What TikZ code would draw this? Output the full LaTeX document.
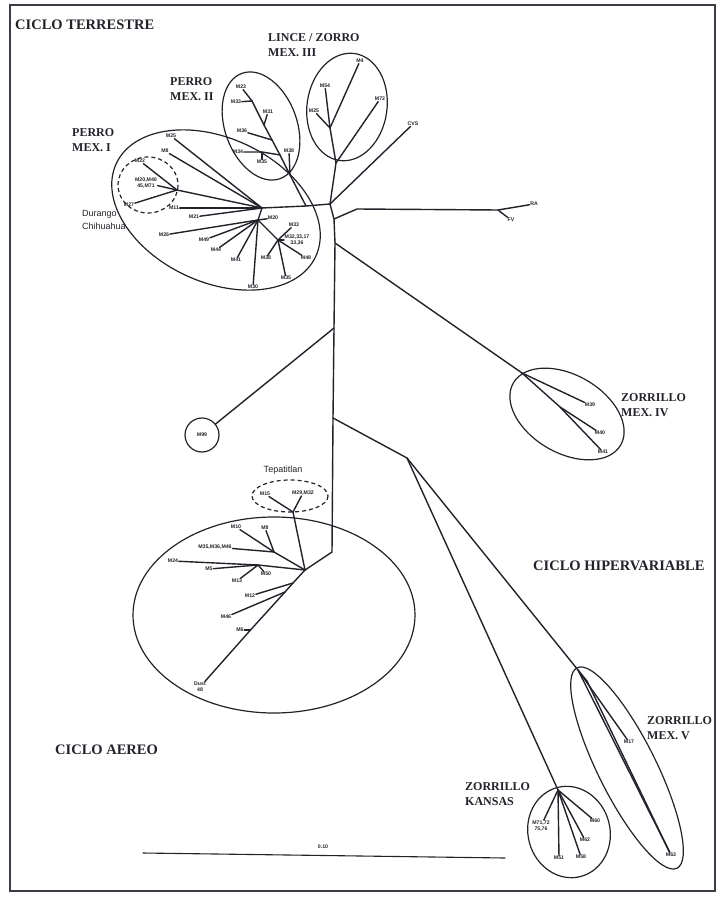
\documentclass[tikz,border=0pt]{standalone}
\usepackage{fontspec}
\setmainfont{Liberation Serif}
\newfontfamily\leaffam{Liberation Sans}
\usetikzlibrary{calc}
\definecolor{inkcol}{RGB}{34,34,42}
\definecolor{framecol}{RGB}{60,60,68}
\newcommand{\leaffont}{\leaffam\bfseries\fontsize{5.2}{5.8}\selectfont}
\newcommand{\groupfont}{\bfseries\fontsize{12}{14.5}\selectfont}
\newcommand{\cyclefont}{\bfseries\fontsize{14.5}{16}\selectfont}
\newcommand{\placefont}{\leaffam\fontsize{9}{13}\selectfont}
\tikzset{
  branch/.style={inkcol, line width=1.4pt, line cap=round},
  clade/.style={inkcol, line width=1.2pt},
  localclade/.style={inkcol, line width=1.2pt, dash pattern=on 4pt off 3pt},
  leaf/.style={inkcol, font=\leaffont, inner sep=0.6pt, align=center},
  grouplbl/.style={inkcol, font=\groupfont, align=left, anchor=west, inner sep=0pt},
  cyclelbl/.style={inkcol, font=\cyclefont, anchor=west, inner sep=0pt},
  placelbl/.style={inkcol, font=\placefont, align=left, inner sep=0pt}
}

\begin{document}
\begin{tikzpicture}[x=1pt, y=-1pt]

  \useasboundingbox (0,0) rectangle (724,901);

  % --- frame -------------------------------------------------------------
  \draw[framecol, line width=2pt] (10,5) rectangle (715,891);

  % --- cycle titles --------------------------------------------------------
  \node[cyclelbl] (tTerr) at (15,25) {CICLO TERRESTRE};
  \node[cyclelbl] (tHiper) at (533,566) {CICLO HIPERVARIABLE};
  \node[cyclelbl] (tAereo) at (55,750) {CICLO AEREO};

  % --- inner nodes of the tree --------------------------------------------
  \coordinate (H)     at (330,204);
  \coordinate (T1)    at (334,219);
  \coordinate (Tz4)   at (335,243);
  \coordinate (T99)   at (334,328);
  \coordinate (HVj)   at (333,418);
  \coordinate (B1)    at (332,552);
  \coordinate (A1)    at (305,570);
  \coordinate (RAj)   at (357,209);
  \coordinate (RAn)   at (498,210);
  \coordinate (L1)    at (336,163);
  \coordinate (L2)    at (330,128);
  \coordinate (J2)    at (306,206);
  \coordinate (P2a)   at (290,175);
  \coordinate (S1)    at (280,155);
  \coordinate (S2)    at (272,140);
  \coordinate (S3)    at (264,125);
  \coordinate (P2top) at (252,101);
  \coordinate (F1)    at (262,152);
  \coordinate (P1)    at (262,208);
  \coordinate (PIa)   at (258,220);
  \coordinate (PIb)   at (278,240);
  \coordinate (D)     at (177,190);
  \coordinate (TepS)  at (293,512);
  \coordinate (A2)    at (274,552);
  \coordinate (A3)    at (258,565);
  \coordinate (A4)    at (293,583);
  \coordinate (A5)    at (285,592);
  \coordinate (A6)    at (250.5,630);
  \coordinate (HV)    at (407,458);
  \coordinate (Z4)    at (522,373);
  \coordinate (Z4a)   at (560,407);
  \coordinate (Z5)    at (578,670);
  \coordinate (Z5b)   at (587,681);
  \coordinate (ZK)    at (558,790);

  % --- leaf labels ---------------------------------------------------------
  \node[leaf] (lRA)   at (534,204) {RA};
  \node[leaf] (lFV)   at (511,220) {FV};
  \node[leaf] (lCVS)  at (413,124) {CVS};
  % lince / zorro
  \node[leaf] (lM54)  at (325,86)  {M54};
  \node[leaf] (lM25z) at (314,111) {M25};
  \node[leaf] (lM4)   at (360,61)  {M4};
  \node[leaf] (lM72)  at (380,99)  {M72};
  % perro mex. ii
  \node[leaf] (lM23)  at (241,87)  {M23};
  \node[leaf] (lM33)  at (236,102) {M33};
  \node[leaf] (lM31)  at (268,112) {M31};
  \node[leaf] (lM36)  at (242,131) {M36};
  \node[leaf] (lM34)  at (238,152) {M34};
  \node[leaf] (lM35)  at (262,162) {M35};
  \node[leaf] (lM38)  at (289,151) {M38};
  % perro mex. i
  \node[leaf] (lM25)  at (171,136) {M25};
  \node[leaf] (lM8)   at (165,151) {M8};
  \node[leaf] (lM11)  at (174,208) {M11};
  \node[leaf] (lM21)  at (194,217) {M21};
  \node[leaf] (lM26)  at (164,235) {M26};
  \node[leaf] (lM30)  at (253,287) {M30};
  \node[leaf] (lM49)  at (204,240) {M49};
  \node[leaf] (lM44)  at (216,250) {M44};
  \node[leaf] (lM41)  at (236,260) {M41};
  \node[leaf] (lM20)  at (273,218) {M20};
  \node[leaf] (lM33b) at (294,225) {M33};
  \node[leaf] (lM32)  at (297,240) {M32,33,17\\33,36};
  \node[leaf] (lM48)  at (306,258) {M48};
  \node[leaf] (lM38b) at (266,258) {M38};
  \node[leaf] (lM35b) at (286,278) {M35};
  % durango / chihuahua
  \node[leaf] (lM22)  at (140,161) {M22};
  \node[leaf] (lM20c) at (146,183) {M20,M40\\45,M71};
  \node[leaf] (lM27)  at (129,205) {M27};
  % tepatitlan and aereo
  \node[leaf] (lM15)  at (265,494) {M15};
  \node[leaf] (lM29)  at (303,493) {M29,M32};
  \node[leaf] (lM10)  at (236,527) {M10};
  \node[leaf] (lM8b)  at (265,528) {M8};
  \node[leaf] (lM35c) at (215,547) {M35,M36,M46};
  \node[leaf] (lM24)  at (173,561) {M24};
  \node[leaf] (lM5)   at (209,569) {M5};
  \node[leaf] (lM50)  at (266,574) {M50};
  \node[leaf] (lM13)  at (237,581) {M13};
  \node[leaf] (lM12)  at (250,596) {M12};
  \node[leaf] (lM46)  at (226,617) {M46};
  \node[leaf] (lM6)   at (240,630) {M6};
  \node[leaf] (lDust) at (200,687) {Dust\\48};
  \node[leaf, draw, line width=1.2pt, circle, minimum size=34pt, inner sep=0pt] (M99) at (202,435) {M99};
  % zorrillo
  \node[leaf] (lM39)  at (590,405) {M39};
  \node[leaf] (lM40)  at (600,433) {M40};
  \node[leaf] (lM41b) at (603,452) {M41};
  \node[leaf] (lM17)  at (629,742) {M17};
  \node[leaf] (lM63)  at (671,855) {M63};
  \node[leaf] (lM51)  at (559,858) {M51};
  \node[leaf] (lM58)  at (581,857) {M58};
  \node[leaf] (lM62)  at (585,840) {M62};
  \node[leaf] (lM60)  at (595,821) {M60};
  \node[leaf] (lM71)  at (541,826) {M71,72\\75,76};

  % --- trunk -----------------------------------------------------------------
  \draw[branch] (H) -- (T1) -- (Tz4) -- (T99) -- (HVj) -- (B1) -- (A1);
  \draw[branch] (T1) -- (RAj) -- (RAn) -- (lRA);
  \draw[branch] (RAn) -- (lFV);
  \draw[branch] (H) -- (lCVS);
  \draw[branch] (T99) -- (M99);

  % --- lince / zorro -------------------------------------------------------
  \draw[branch] (H) -- (L1) -- (L2) -- (lM4);
  \draw[branch] (L2) -- (lM54);
  \draw[branch] (L2) -- (lM25z);
  \draw[branch] (L1) -- (lM72);

  % --- perro mex. ii -------------------------------------------------------
  \draw[branch] (H) -- (J2) -- (P1);
  \draw[branch] (J2) -- (P2a) -- (S1) -- (S2) -- (S3) -- (P2top);
  \draw[branch] (P2top) -- (lM23);
  \draw[branch] (P2top) -- (lM33);
  \draw[branch] (S3) -- (lM31);
  \draw[branch] (S2) -- (lM36);
  \draw[branch] (S1) -- (F1) -- (lM34);
  \draw[branch] (F1) -- (lM35);
  \draw[branch] (P2a) -- (lM38);

  % --- perro mex. i --------------------------------------------------------
  \foreach \tip in {lM25, lM8, D, lM11, lM21, PIa}
    \draw[branch] (P1) -- (\tip);
  \foreach \tip in {lM26, lM30, lM49, lM44, lM41, lM20, PIb}
    \draw[branch] (PIa) -- (\tip);
  \foreach \tip in {lM33b, lM32, lM48, lM38b, lM35b}
    \draw[branch] (PIb) -- (\tip);
  \foreach \tip in {lM22, lM20c, lM27}
    \draw[branch] (D) -- (\tip);

  % --- aereo -----------------------------------------------------------------
  \draw[branch] (A1) -- (TepS) -- (lM15);
  \draw[branch] (TepS) -- (lM29);
  \draw[branch] (A1) -- (A2);
  \foreach \tip in {lM10, lM8b, lM35c}
    \draw[branch] (A2) -- (\tip);
  \draw[branch] (A1) -- (A3);
  \foreach \tip in {lM24, lM5, lM50, lM13}
    \draw[branch] (A3) -- (\tip);
  \draw[branch] (A1) -- (A4) -- (A5) -- (A6) -- (lDust);
  \draw[branch] (A4) -- (lM12);
  \draw[branch] (A5) -- (lM46);
  \draw[branch] (A6) -- (lM6);

  % --- hipervariable ---------------------------------------------------------
  \draw[branch] (Tz4) -- (Z4) -- (lM39);
  \draw[branch] (Z4) -- (Z4a) -- (lM40);
  \draw[branch] (Z4a) -- (lM41b);
  \draw[branch] (HVj) -- (HV) -- (Z5) -- (lM17);
  \draw[branch] (Z5) -- (lM63);
  \draw[branch] (Z5) -- (Z5b) -- (lM63);
  \draw[branch] (HV) -- (ZK);
  \foreach \tip in {lM51, lM58, lM62, lM60, lM71}
    \draw[branch] (ZK) -- (\tip);

  % --- clade outlines --------------------------------------------------------
  \coordinate (cPerroI)  at (216,210);
  \coordinate (cPerroII) at (261,126);
  \coordinate (cLince)   at (347,107);
  \coordinate (cDurango) at (148,185);
  \coordinate (cTepa)    at (290,496);
  \coordinate (cAereo)   at (274,615);
  \coordinate (cZorIV)   at (567,414);
  \coordinate (cZorV)    at (627,768);
  \coordinate (cZorK)    at (569,832);
  \draw[clade, rotate around={-25:(cPerroI)}] (cPerroI) ellipse [x radius=110, y radius=72];
  \draw[clade, rotate around={20:(cPerroII)}] (cPerroII) ellipse [x radius=36, y radius=56];
  \draw[clade, rotate around={-8:(cLince)}] (cLince) ellipse [x radius=40, y radius=54];
  \draw[localclade] (cDurango) ellipse [x radius=30, y radius=28];
  \draw[localclade] (cTepa) ellipse [x radius=38, y radius=16];
  \draw[clade] (cAereo) ellipse [x radius=141, y radius=98];
  \draw[clade, rotate around={-30:(cZorIV)}] (cZorIV) ellipse [x radius=62, y radius=39];
  \draw[clade, rotate around={-63.5:(cZorV)}] (cZorV) ellipse [x radius=112, y radius=29];
  \draw[clade, rotate around={15:(cZorK)}] (cZorK) ellipse [x radius=41, y radius=46];

  % --- group names -----------------------------------------------------------
  \node[grouplbl] (gLince)   at (268,45)  {LINCE / ZORRO\\MEX. III};
  \node[grouplbl] (gPerroII) at (170,89)  {PERRO\\MEX. II};
  \node[grouplbl] (gPerroI)  at (72,140)  {PERRO\\MEX. I};
  \node[grouplbl] (gZorIV)   at (621,405) {ZORRILLO\\MEX. IV};
  \node[grouplbl] (gZorV)    at (647,728) {ZORRILLO\\MEX. V};
  \node[grouplbl] (gZorK)    at (465,794) {ZORRILLO\\KANSAS};
  \node[placelbl, anchor=west] (pDurango) at (82,220) {Durango\\Chihuahua};
  \node[placelbl] (pTepa) at (283,470) {Tepatitlan};

  % --- scale bar -------------------------------------------------------------
  \coordinate (barL) at (143,853);
  \coordinate (barR) at (505,858);
  \draw[branch, line width=1.1pt] (barL) -- (barR);
  \node[leaf] (barLbl) at (323,847) {0.10};

\end{tikzpicture}
\end{document}
